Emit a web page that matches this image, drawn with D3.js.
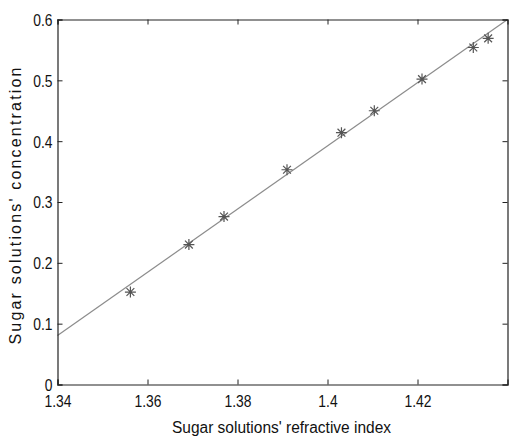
<!DOCTYPE html>
<html>
<head>
<meta charset="utf-8">
<script src="https://cdn.jsdelivr.net/npm/d3@7"></script>
<style>
  body { margin: 0; background: #fff; }
  text { font-family: "Liberation Sans", Arial, sans-serif; fill: #111; }
</style>
</head>
<body>
<div id="chart"></div>
<script>
const margin = {top: 19.5, right: 2.5, bottom: 53.5, left: 57.5},
      width = 510 - margin.left - margin.right,
      height = 438 - margin.top - margin.bottom;

// measured points
const refractiveIndex = [1.3562, 1.3692, 1.3770, 1.3910, 1.4031, 1.4104, 1.4210, 1.4324, 1.4357];
const concentration   = [0.152, 0.230, 0.276, 0.353, 0.414, 0.450, 0.502, 0.554, 0.569];

// fitted line ends
const fitX = [1.34, 1.44];
const fitY = [0.0806, 0.6];

const xTicks = [1.34, 1.36, 1.38, 1.40, 1.42];
const xTickLabels = ["1.34", "1.36", "1.38", "1.4", "1.42"];
const yTicks = [0, 0.1, 0.2, 0.3, 0.4, 0.5, 0.6];
const yTickLabels = ["0", "0.1", "0.2", "0.3", "0.4", "0.5", "0.6"];

const svg = d3.select("#chart")
  .append("svg")
  .attr("width", 510)
  .attr("height", 438)
  .append("g")
  .attr("transform", `translate(${margin.left},${margin.top})`);

const x = d3.scaleLinear().domain([1.34, 1.44]).range([0, width]);
const y = d3.scaleLinear().domain([0, 0.6]).range([height, 0]);

// fit line
svg.append("line")
  .attr("x1", x(fitX[0])).attr("y1", y(fitY[0]))
  .attr("x2", x(fitX[1])).attr("y2", y(fitY[1]))
  .attr("stroke", "#8c8c8c")
  .attr("stroke-width", 1.2);

// asterisk markers
const s = 5.5, d = 3.9;
const star = `M${-s},0L${s},0M0,${-s}L0,${s}M${-d},${-d}L${d},${d}M${-d},${d}L${d},${-d}`;
svg.selectAll("path.pt")
  .data(refractiveIndex.map((v, i) => [v, concentration[i]]))
  .join("path")
  .attr("class", "pt")
  .attr("transform", (p) => `translate(${x(p[0])},${y(p[1])})`)
  .attr("d", star)
  .attr("fill", "none")
  .attr("stroke", "#555")
  .attr("stroke-width", 1.2);

// axes, MATLAB box style with inward ticks
const tickLen = 5;
const gBottom = svg.append("g")
  .attr("transform", `translate(0,${height})`)
  .call(d3.axisBottom(x).tickValues(xTicks).tickSize(-tickLen).tickPadding(11)
    .tickFormat((v, i) => xTickLabels[i]));
const gTop = svg.append("g")
  .call(d3.axisTop(x).tickValues(xTicks).tickSize(-tickLen).tickFormat(""));
const gLeft = svg.append("g")
  .call(d3.axisLeft(y).tickValues(yTicks).tickSize(-tickLen).tickPadding(5)
    .tickFormat((v, i) => yTickLabels[i]));
const gRight = svg.append("g")
  .attr("transform", `translate(${width},0)`)
  .call(d3.axisRight(y).tickValues(yTicks).tickSize(-tickLen).tickFormat(""));

[gBottom, gTop, gLeft, gRight].forEach((g) => {
  g.selectAll("path.domain").attr("stroke", "#222").attr("stroke-width", 1.2);
  g.selectAll(".tick line").attr("stroke", "#222");
  g.selectAll(".tick text")
    .style("font-size", "16.5px")
    .attr("fill", "#111")
    .each(function() {
      // condensed look of the original labels
      const w = this.getComputedTextLength();
      d3.select(this).attr("textLength", w * 0.84).attr("lengthAdjust", "spacingAndGlyphs");
    });
});
gLeft.selectAll(".tick text").attr("dy", "0.36em");

// axis titles
svg.append("text")
  .attr("x", width / 2 - 1)
  .attr("y", height + 48)
  .attr("text-anchor", "middle")
  .attr("textLength", 219)
  .attr("lengthAdjust", "spacingAndGlyphs")
  .style("font-size", "16px")
  .text("Sugar solutions' refractive index");

svg.append("text")
  .attr("transform", `translate(${-margin.left + 21},${height / 2 + 4}) rotate(-90)`)
  .attr("text-anchor", "middle")
  .attr("textLength", 277)
  .attr("lengthAdjust", "spacing")
  .style("font-size", "16px")
  .text("Sugar solutions' concentration");
</script>
</body>
</html>
